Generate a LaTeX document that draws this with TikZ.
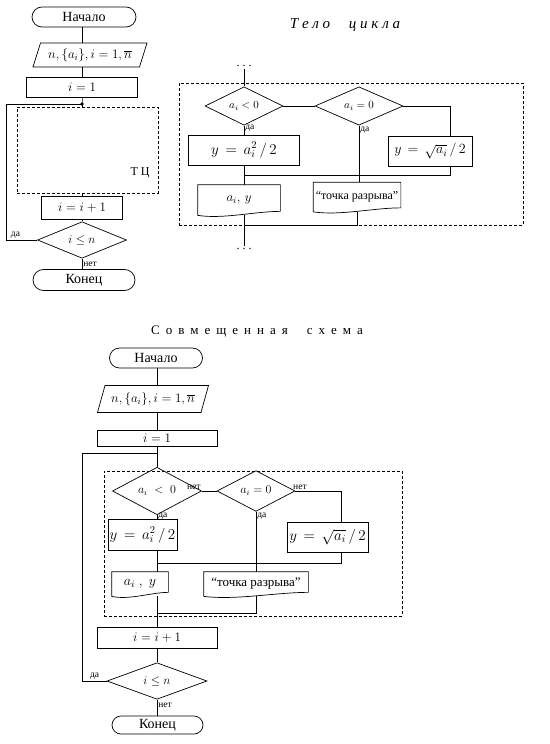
\RequirePackage{fix-cm}
\documentclass[tikz,border=0pt]{standalone}
\usepackage{fontspec}
\setmainfont{Liberation Serif}
\usetikzlibrary{shapes.geometric,shapes.misc}

\begin{document}
\begin{tikzpicture}[x=1pt, y=-1pt, line width=0.7pt,
    wh/.style args={#1x#2}{minimum width=#1pt, minimum height=#2pt},
    term/.style={draw, rounded rectangle, inner sep=0pt, font=\fontsize{14}{16}\selectfont},
    proc/.style={draw, rectangle, inner sep=0pt, font=\fontsize{13}{15}\selectfont},
    io/.style={draw, trapezium, trapezium left angle=60, trapezium right angle=120,
      trapezium stretches body, inner sep=0pt, font=\fontsize{13}{15}\selectfont},
    cond/.style={draw, diamond, inner sep=0pt, font=\fontsize{12}{14}\selectfont},
    doc/.style={rectangle, inner sep=0pt, font=\fontsize{13}{15}\selectfont},
    frame/.style={draw, dashed, dash pattern=on 3pt off 2pt, rectangle, inner sep=0pt},
    lbl/.style={inner sep=1pt, font=\fontsize{9.5}{11}\selectfont},
    dots/.style={inner sep=2pt, font=\fontsize{12}{12}\selectfont}]
  \useasboundingbox[fill=white] (0,0) rectangle (549,744);

  % general scheme
  \node[term, wh=104x20] (s1) at (84,17) {Начало};
  \node[io, wh=114x24] (io1) at (90,55) {$n,\{a_i\},i=1,\overline{n}$};
  \node[proc, wh=111x20] (p1) at (82,87) {$i=1$};
  \coordinate (j1) at (82,104);
  \node[frame, wh=141x86] (tc) at (87.5,150) {};
  \node[font=\fontsize{12}{14}\selectfont] (tcl) at (140,173) {Т Ц};
  \node[proc, wh=81x23] (p2) at (82,208) {$i=i+1$};
  \node[cond, wh=89x33] (c1) at (82,240) {$i\le n$};
  \node[term, wh=102x21] (e1) at (84,280) {Конец};
  \draw (s1.south -| p1) -- (io1.north -| p1);
  \draw (io1.south -| p1) -- (p1);
  \draw (p1) -- (j1) -- (tc.north -| j1);
  \fill (j1) circle[radius=1.8pt];
  \draw (tc.south -| p1) -- (p2);
  \draw (p2) -- (c1);
  \draw (c1) -- node[lbl, right, pos=0.55] (n1) {нет} (c1 |- e1.north);
  \draw (c1.west) -- node[lbl, above, pos=0.7] (y1) {да} ++(-31,0) |- (j1);

  % loop body
  \node[font=\fontsize{15}{17}\selectfont\itshape] (t1) at (345,25) {Т е л о \quad ц и к л а};
  \node[dots] (dt) at (244,66) {.\ .\ .};
  \node[frame, wh=344x142] (b1) at (351,154) {};
  \node[cond, wh=78x32, font=\fontsize{11}{13}\selectfont] (d1) at (244,106) {$a_i<0$};
  \node[cond, wh=88x34, font=\fontsize{11}{13}\selectfont] (d2) at (359,106) {$a_i=0$};
  \node[proc, wh=111x30, font=\fontsize{15}{17}\selectfont] (r1) at (244,150) {$y\,=\,a_i^2\,/\,2$};
  \node[proc, wh=84x30, font=\fontsize{14}{16}\selectfont] (r2) at (430,151) {$y\,=\,\sqrt{a_i}\,/\,2$};
  \coordinate (m1) at (244,175);
  \node[doc, wh=82x30] (o1) at (239,200) {$a_i,\,y$};
  \node[doc, wh=87x29, font=\fontsize{12}{14}\selectfont] (o2) at (357,197) {“точка разрыва”};
  \node[dots] (db) at (244,249) {.\ .\ .};
  \draw (dt) -- (d1);
  \draw (d1) -- (d2);
  \draw (d2.east) -| ([xshift=20]r2.north);
  \draw (d1) -- node[lbl, right, pos=0.3] (y2) {да} (r1);
  \draw (d2.south) -- node[lbl, right, pos=0.08] (y3) {да} (d2.south |- o2.north);
  \draw (r1) -- (r1 |- o1.north);
  \draw ([xshift=20]r2.south) |- (m1);
  \draw (r1 |- o1.south) -- (db);
  \draw (o2.south) |- (db |- b1.south);

  % combined scheme
  \node[font=\fontsize{13}{15}\selectfont] (t2) at (257,332) {\spaceskip=6pt С о в м е щ е н н а я \quad с х е м а};
  \node[term, wh=93x20] (s2) at (156,358) {Начало};
  \node[io, wh=111x27] (io2) at (153,399) {$n,\{a_i\},i=1,\overline{n}$};
  \node[proc, wh=120x16] (p3) at (157,438) {$i=1$};
  \coordinate (j2) at (157,453);
  \node[frame, wh=298x145] (b2) at (253,543.5) {};
  \node[cond, wh=89x33] (d3) at (157,491) {$a_i\;<\;0$};
  \node[cond, wh=78x33] (d4) at (256,491) {$a_i=0$};
  \node[proc, wh=69x31, font=\fontsize{15}{17}\selectfont] (r3) at (142.5,535) {$y\,=\,a_i^2\,/\,2$};
  \node[proc, wh=81x30, font=\fontsize{15}{17}\selectfont] (r4) at (327.5,537) {$y\,=\,\sqrt{a_i}\,/\,2$};
  \coordinate (m3) at (157,563);
  \node[doc, wh=56x24, font=\fontsize{14}{16}\selectfont] (o3) at (140,584) {$a_i\;,\;y$};
  \node[doc, wh=104x24, font=\fontsize{13}{15}\selectfont] (o4) at (256,584) {“точка разрыва”};
  \coordinate (m4) at (157,613);
  \node[proc, wh=120x21] (p4) at (157,637.5) {$i=i+1$};
  \node[cond, wh=100x36] (c2) at (157,681) {$i\le n$};
  \node[term, wh=91x18] (e2) at (157.5,725) {Конец};
  \draw (s2.south -| p3) -- (io2.north -| p3);
  \draw (io2.south -| p3) -- (p3);
  \draw (p3) -- (d3);
  \draw (d3) -- node[lbl, above left, pos=0] (n2) {нет} (d4);
  \draw (d4.east) -| node[lbl, above, pos=0.05] (n3) {нет} ([xshift=14]r4.north);
  \draw (d3.south) -- node[lbl, right, pos=0.3] (y4) {да} (d3.south |- r3.north);
  \draw (d4.south) -- node[lbl, right, pos=0.07] (y5) {да} (d4.south |- o4.north);
  \draw (d3.south |- r3.south) -- (d3.south |- o3.north);
  \draw ([xshift=14]r4.south) |- (m3);
  \draw (o4.south) |- (m4);
  \draw (d3.south |- o3.south) -- (p4);
  \draw (p4) -- (c2);
  \draw (c2) -- node[lbl, right, pos=0.35] (n4) {нет} (c2 |- e2.north);
  \draw (c2.west) -- node[lbl, above, pos=0.5] (y6) {да} ++(-24,0) |- (j2);

  \foreach \d/\w in {o1/25, o2/27, o3/17, o4/32}
    \draw (\d.north west) -- (\d.north east) -- ([yshift=4]\d.south east)
      .. controls ([xshift=-\w, yshift=4]\d.south east)
      and ([xshift=\w, yshift=-4]\d.south west) .. (\d.south west) -- cycle;
\end{tikzpicture}
\end{document}
